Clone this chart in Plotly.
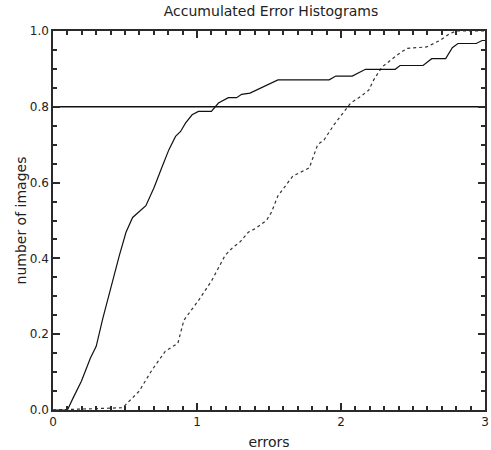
import plotly.graph_objects as go
from plotly.subplots import make_subplots

# Solid curve (method A)
solid_x = [0.0, 0.10, 0.14, 0.197, 0.26, 0.30, 0.346, 0.404, 0.461, 0.507, 0.553, 0.645, 0.702,
           0.759, 0.805, 0.851, 0.886, 0.920, 0.966, 1.01, 1.10, 1.149, 1.218, 1.275, 1.31, 1.368,
           1.562, 1.918, 1.964, 2.078, 2.17, 2.376, 2.41, 2.57, 2.63, 2.727, 2.773, 2.812, 2.939,
           2.98, 3.0]
solid_y = [0.0, 0.0, 0.032, 0.076, 0.137, 0.168, 0.242, 0.329, 0.408, 0.469, 0.508, 0.539, 0.587,
           0.643, 0.687, 0.722, 0.735, 0.757, 0.779, 0.788, 0.788, 0.81, 0.824, 0.824, 0.833, 0.836,
           0.871, 0.871, 0.881, 0.881, 0.899, 0.899, 0.909, 0.909, 0.927, 0.927, 0.956, 0.967, 0.967,
           0.975, 0.975]

# Dotted curve (method B)
dot_x = [0.0, 0.484, 0.599, 0.688, 0.78, 0.867, 0.909, 1.012, 1.103, 1.195, 1.252, 1.298, 1.356,
         1.402, 1.482, 1.516, 1.562, 1.665, 1.78, 1.838, 1.883, 1.952, 2.067, 2.136, 2.193, 2.227,
         2.285, 2.388, 2.457, 2.595, 2.686, 2.755, 2.80, 3.0]
dot_y = [0.0, 0.006, 0.05, 0.106, 0.155, 0.176, 0.237, 0.29, 0.342, 0.408, 0.43, 0.443, 0.469,
         0.478, 0.5, 0.521, 0.565, 0.617, 0.639, 0.70, 0.713, 0.753, 0.81, 0.827, 0.844, 0.871,
         0.905, 0.936, 0.954, 0.958, 0.975, 0.993, 1.0, 1.0]

# Threshold line
thr_x = [0, 3]
thr_y = [0.8, 0.8]

x_ticks = [0, 1, 2, 3]
y_ticks = [0.0, 0.2, 0.4, 0.6, 0.8, 1.0]

ink = "#222222"
axc = "#2a2a2a"
fontfam = "DejaVu Sans"

fig = make_subplots(rows=1, cols=1)
fig.add_trace(go.Scatter(x=thr_x, y=thr_y, mode="lines",
                         line=dict(color="#111111", width=1.6), showlegend=False), row=1, col=1)
fig.add_trace(go.Scatter(x=dot_x, y=dot_y, mode="lines",
                         line=dict(color="#333333", width=1.2, dash="dot"), showlegend=False), row=1, col=1)
fig.add_trace(go.Scatter(x=solid_x, y=solid_y, mode="lines",
                         line=dict(color="#111111", width=1.2), showlegend=False), row=1, col=1)

axis_common = dict(
    showgrid=False, zeroline=False, showline=True, linecolor=axc, linewidth=1.5,
    mirror="ticks", ticks="inside", ticklen=7, tickwidth=1.5, tickcolor=axc,
    tickfont=dict(family=fontfam, size=12, color=ink), tickmode="linear",
)

fig.update_xaxes(range=[x_ticks[0], x_ticks[-1]], tick0=x_ticks[0], dtick=x_ticks[1] - x_ticks[0],
                 minor=dict(ticks="inside", ticklen=4, dtick=0.1, tickcolor=axc, tickwidth=1.5),
                 title=dict(text="errors", standoff=9),
                 row=1, col=1, **axis_common)
fig.update_yaxes(range=[y_ticks[0], y_ticks[-1]], tick0=y_ticks[0], dtick=y_ticks[1] - y_ticks[0],
                 tickformat=".1f",
                 minor=dict(ticks="inside", ticklen=4, dtick=0.05, tickcolor=axc, tickwidth=1.5),
                 title=dict(text="number of images", standoff=0),
                 row=1, col=1, **axis_common)

fig.update_layout(
    width=491, height=450,
    margin=dict(l=53, r=2, t=31, b=38),
    paper_bgcolor="white", plot_bgcolor="white",
    font=dict(family=fontfam, size=12, color=ink),
    title=dict(text="Accumulated Error Histograms", x=0.552, xanchor="center",
               font=dict(family=fontfam, size=14, color=ink)),
    showlegend=False,
)

fig.write_html("out.html")
